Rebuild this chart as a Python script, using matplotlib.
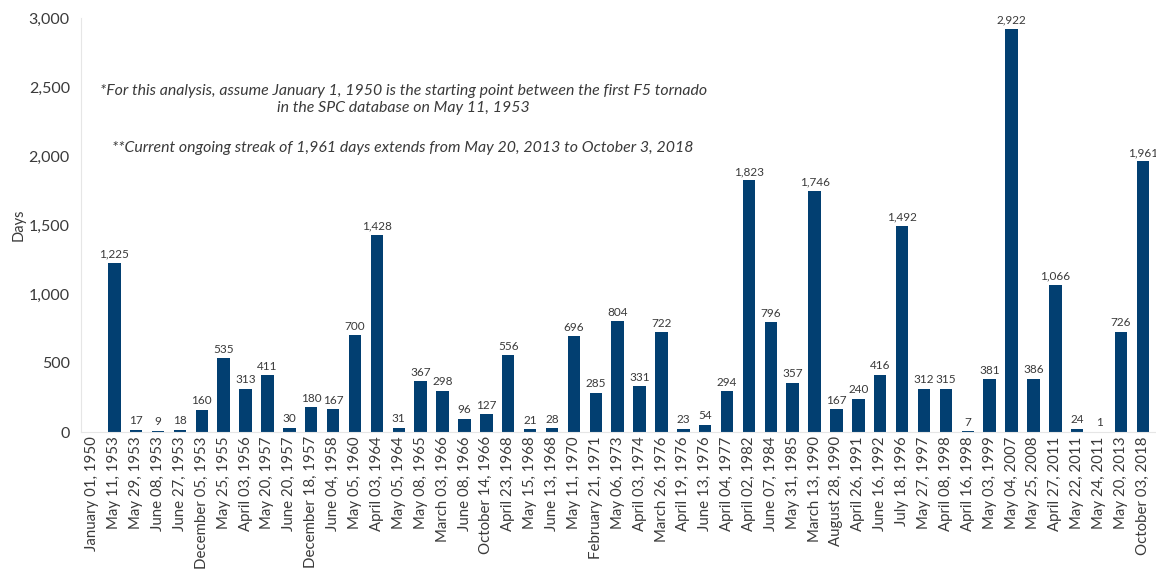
import matplotlib.pyplot as plt
import numpy as np

plt.rcParams['font.family'] = ['Lato', 'DejaVu Sans']

dates = ['January 01, 1950', 'May 11, 1953', 'May 29, 1953', 'June 08, 1953', 'June 27, 1953',
         'December 05, 1953', 'May 25, 1955', 'April 03, 1956', 'May 20, 1957', 'June 20, 1957',
         'December 18, 1957', 'June 04, 1958', 'May 05, 1960', 'April 03, 1964', 'May 05, 1964',
         'May 08, 1965', 'March 03, 1966', 'June 08, 1966', 'October 14, 1966', 'April 23, 1968',
         'May 15, 1968', 'June 13, 1968', 'May 11, 1970', 'February 21, 1971', 'May 06, 1973',
         'April 03, 1974', 'March 26, 1976', 'April 19, 1976', 'June 13, 1976', 'April 04, 1977',
         'April 02, 1982', 'June 07, 1984', 'May 31, 1985', 'March 13, 1990', 'August 28, 1990',
         'April 26, 1991', 'June 16, 1992', 'July 18, 1996', 'May 27, 1997', 'April 08, 1998',
         'April 16, 1998', 'May 03, 1999', 'May 04, 2007', 'May 25, 2008', 'April 27, 2011',
         'May 22, 2011', 'May 24, 2011', 'May 20, 2013', 'October 03, 2018']
days = [0, 1225, 17, 9, 18, 160, 535, 313, 411, 30,
        180, 167, 700, 1428, 31, 367, 298, 96, 127, 556,
        21, 28, 696, 285, 804, 331, 722, 23, 54, 294,
        1823, 796, 357, 1746, 167, 240, 416, 1492, 312, 315,
        7, 381, 2922, 386, 1066, 24, 1, 726, 1961]

bar_color = '#023f71'
text_color = '#3a3a3a'

fig = plt.figure(figsize=(11.56, 5.71), dpi=100)
ax = fig.add_axes([81 / 1156, 139 / 571, 1 - 81 / 1156, (432 - 18) / 571])

x = np.arange(len(dates))
ax.bar(x, days, width=0.57, color=bar_color)

# value labels above each bar (skip the empty starting point)
for xi, v in zip(x, days):
    if v == 0:
        continue
    ax.text(xi, v + 25, f'{v:,}', ha='center', va='bottom', fontsize=8.5, color=text_color)

ax.set_xlim(-0.52, 48.6)
ax.set_ylim(0, 3000)
yt = np.arange(0, 3001, 500)
ax.set_yticks(yt)
ax.set_yticklabels([f'{t:,}' for t in yt], fontsize=11.5, color=text_color)
ax.set_xticks(x)
ax.set_xticklabels(dates, rotation=90, fontsize=10.8, color=text_color)
ax.tick_params(length=0, axis='both')
ax.tick_params(axis='x', pad=3)
ax.tick_params(axis='y', pad=8)
ax.set_ylabel('Days', fontsize=10.5, color=text_color, labelpad=2)

for side in ['top', 'right']:
    ax.spines[side].set_visible(False)
ax.spines['left'].set_color('#e6e6e6')
ax.spines['bottom'].set_color('#e6e6e6')

ax.text(14.2, 2410, '*For this analysis, assume January 1, 1950 is the starting point between the first F5 tornado\nin the SPC database on May 11, 1953',
        ha='center', va='center', fontsize=11.4, style='italic', color=text_color, linespacing=1.3)
ax.text(14.2, 2060, '**Current ongoing streak of 1,961 days extends from May 20, 2013 to October 3, 2018',
        ha='center', va='center', fontsize=11.4, style='italic', color=text_color)

fig.savefig('out.png', dpi=100)
